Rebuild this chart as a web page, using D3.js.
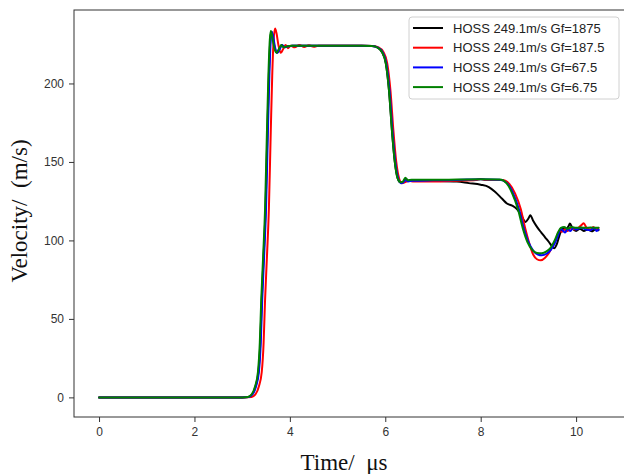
<!DOCTYPE html>
<html>
<head>
<meta charset="utf-8">
<script src="https://cdn.jsdelivr.net/npm/d3@7"></script>
<style>
  html, body { margin: 0; padding: 0; background: #fff; }
  svg { display: block; }
</style>
</head>
<body>
<svg id="chart" width="624" height="474"></svg>
<script>
// Velocity histories (time in µs, velocity in m/s) for four fracture energies
const seriesNames = [
  "HOSS 249.1m/s Gf=1875",
  "HOSS 249.1m/s Gf=187.5",
  "HOSS 249.1m/s Gf=67.5",
  "HOSS 249.1m/s Gf=6.75"
];
const seriesColors = ["#000000", "#ff0000", "#0000ff", "#008000"];

const gf1875 = [
  [0,0],[3.0,0],[3.13,0.3],[3.21,2],[3.28,7],[3.34,16],[3.38,35],[3.41,62],[3.45,90],[3.49,120],[3.53,170],[3.56,205],[3.59,228],[3.61,233],[3.64,230],[3.68,223],[3.73,219.5],[3.78,222],[3.83,224.5],[3.88,223],[3.94,223.5],[4.05,224],[4.5,224],[5.0,224],[5.5,224],[5.72,223.8],[5.83,223],[5.93,220],[6.01,213],[6.08,195],[6.14,170],[6.2,150],[6.26,139.5],[6.32,137],[6.38,137.3],[6.43,139.5],[6.48,138],[6.56,138.3],[7.0,138],[7.5,137.5],[7.75,136.5],[8.0,135.5],[8.17,134],[8.3,131],[8.45,126.5],[8.55,123.5],[8.66,122.2],[8.76,120],[8.85,116],[8.94,111.8],[9.0,114],[9.04,116],[9.1,112.5],[9.18,108.6],[9.27,105],[9.35,102],[9.43,99],[9.49,96.5],[9.54,95],[9.6,98],[9.66,104],[9.71,107.5],[9.78,107],[9.84,109],[9.87,110.8],[9.92,108],[10.0,106],[10.08,107.5],[10.16,106],[10.25,107],[10.33,105.8],[10.4,107],[10.47,106.5]
];
const gf187_5 = [
  [0,0],[3.0,0],[3.2,0.3],[3.28,2],[3.35,7],[3.41,16],[3.45,35],[3.48,62],[3.52,90],[3.56,120],[3.6,170],[3.63,205],[3.66,228],[3.69,235],[3.72,232],[3.76,224.5],[3.81,219.5],[3.86,222],[3.91,224.5],[3.96,222.5],[4.02,224],[4.1,223],[4.2,224.5],[4.3,223.2],[4.4,224.3],[4.5,223.4],[4.6,224],[5.0,224],[5.5,224],[5.74,223.8],[5.86,223],[5.96,220],[6.04,213],[6.11,195],[6.17,170],[6.23,150],[6.29,139.5],[6.35,136.5],[6.42,137.2],[6.5,138],[6.6,137.5],[7.0,137.5],[7.5,138],[7.9,138.5],[8.0,139.2],[8.1,138.5],[8.45,138.5],[8.6,136],[8.72,130],[8.84,120],[8.93,108],[9.02,98],[9.1,91],[9.18,88],[9.26,87.3],[9.35,89],[9.43,92],[9.5,96],[9.58,101],[9.65,106],[9.7,105.5],[9.76,107],[9.82,106],[9.9,108],[9.97,107],[10.05,108],[10.12,110],[10.16,111],[10.22,108],[10.3,107],[10.36,108.5],[10.42,107],[10.47,108]
];
const gf67_5 = [
  [0,0],[3.0,0],[3.14,0.3],[3.22,2],[3.29,7],[3.35,16],[3.39,35],[3.42,62],[3.46,90],[3.5,120],[3.54,170],[3.57,205],[3.6,228],[3.62,233],[3.65,230],[3.69,223],[3.74,219.5],[3.79,222],[3.84,224.5],[3.89,223],[3.95,223.5],[4.05,224],[4.5,224],[5.0,224],[5.5,224],[5.72,223.8],[5.84,223],[5.94,220],[6.02,213],[6.09,195],[6.15,170],[6.21,150],[6.27,139.5],[6.33,136.5],[6.38,137],[6.43,138.5],[6.48,137.5],[6.56,138],[7.0,138.3],[7.5,138.5],[8.0,139],[8.4,138.6],[8.55,136.5],[8.68,130],[8.8,120],[8.9,108],[9.0,99],[9.1,93.5],[9.2,91],[9.28,90.5],[9.38,91.5],[9.47,94],[9.55,98],[9.62,103],[9.68,107.5],[9.73,106],[9.77,105],[9.82,107.5],[9.88,106],[9.94,108],[10.0,107],[10.1,108],[10.2,107],[10.3,106.5],[10.38,108],[10.43,106],[10.47,107]
];
const gf6_75 = [
  [0,0],[3.0,0],[3.12,0.3],[3.2,2],[3.27,7],[3.33,16],[3.37,35],[3.4,62],[3.44,90],[3.48,120],[3.52,170],[3.55,205],[3.58,228],[3.6,233.5],[3.63,230],[3.67,223],[3.72,219.5],[3.77,222],[3.82,224.5],[3.87,223],[3.93,223.5],[4.05,224],[4.5,224],[5.0,224],[5.5,224],[5.72,223.8],[5.83,223],[5.93,220],[6.01,213],[6.08,195],[6.14,170],[6.2,150],[6.26,139.5],[6.32,137],[6.37,137.5],[6.42,140],[6.47,138.3],[6.55,138.6],[7.0,138.6],[7.5,138.8],[8.0,139],[8.4,138.8],[8.54,136.5],[8.66,130],[8.78,120],[8.88,108],[8.98,99],[9.08,94],[9.18,92],[9.28,91.8],[9.38,93],[9.47,95.5],[9.55,100],[9.62,105],[9.68,108],[9.75,108.5],[9.82,107.5],[9.9,108.5],[10.0,108],[10.1,108.2],[10.2,108],[10.3,108.3],[10.4,108],[10.47,108]
];
const seriesData = [gf1875, gf187_5, gf67_5, gf6_75];

const xTicks = [0, 2, 4, 6, 8, 10];
const yTicks = [0, 50, 100, 150, 200];
const xLabel = "Time/\u00a0\u00a0\u03bcs";
const yLabel = "Velocity/\u00a0\u00a0(m/s)";

const svg = d3.select("#chart");
const plotLeft = 74, plotRight = 625, plotTop = 10, plotBottom = 417;

const x = d3.scaleLinear().domain([-0.525, 11.025]).range([plotLeft, plotRight]);
const y = d3.scaleLinear().domain([-12.5, 246.8]).range([plotBottom, plotTop]);

svg.append("defs").append("clipPath").attr("id", "plotClip")
  .append("rect").attr("x", plotLeft).attr("y", plotTop)
  .attr("width", plotRight - plotLeft).attr("height", plotBottom - plotTop);

// Curves
const line = d3.line()
  .x(d => x(d[0]))
  .y(d => y(d[1]))
  .curve(d3.curveMonotoneX);

const plot = svg.append("g").attr("clip-path", "url(#plotClip)");
seriesData.forEach((pts, i) => {
  plot.append("path")
    .datum(pts)
    .attr("fill", "none")
    .attr("stroke", seriesColors[i])
    .attr("stroke-width", 2)
    .attr("stroke-linejoin", "round")
    .attr("stroke-linecap", "round")
    .attr("d", line);
});

// Axes
const tickFont = "Liberation Sans, Arial, sans-serif";
const xAxis = svg.append("g")
  .attr("transform", `translate(0,${plotBottom})`)
  .call(d3.axisBottom(x).tickValues(xTicks).tickFormat(d3.format("d")).tickSize(5).tickPadding(5));
const yAxis = svg.append("g")
  .attr("transform", `translate(${plotLeft},0)`)
  .call(d3.axisLeft(y).tickValues(yTicks).tickFormat(d3.format("d")).tickSize(5).tickPadding(5));

[xAxis, yAxis].forEach(g => {
  g.select(".domain").remove();
  g.selectAll(".tick line").attr("stroke", "#333").attr("stroke-width", 1);
  g.selectAll(".tick text")
    .attr("fill", "#333")
    .style("font-family", tickFont)
    .style("font-size", "12px");
});

// Frame
svg.append("rect")
  .attr("x", plotLeft).attr("y", plotTop)
  .attr("width", plotRight - plotLeft).attr("height", plotBottom - plotTop)
  .attr("fill", "none").attr("stroke", "#333").attr("stroke-width", 1);

// Axis titles
svg.append("text")
  .attr("x", 344).attr("y", 470)
  .attr("text-anchor", "middle")
  .style("font-family", "Liberation Serif, Times New Roman, serif")
  .style("font-size", "23px")
  .attr("fill", "#111")
  .text(xLabel);

svg.append("text")
  .attr("transform", "translate(27,211) rotate(-90)")
  .attr("text-anchor", "middle")
  .style("font-family", "Liberation Serif, Times New Roman, serif")
  .style("font-size", "23px")
  .attr("fill", "#111")
  .text(yLabel);

// Legend
const legend = svg.append("g");
legend.append("rect")
  .attr("x", 409).attr("y", 17)
  .attr("width", 210).attr("height", 82)
  .attr("rx", 3).attr("ry", 3)
  .attr("fill", "#fff").attr("fill-opacity", 0.85)
  .attr("stroke", "#d0d0d0").attr("stroke-width", 1);

seriesNames.forEach((name, i) => {
  const ry = 28 + i * 19.7;
  legend.append("line")
    .attr("x1", 413).attr("x2", 443)
    .attr("y1", ry).attr("y2", ry)
    .attr("stroke", seriesColors[i]).attr("stroke-width", 2);
  legend.append("text")
    .attr("x", 453).attr("y", ry)
    .attr("dy", "0.36em")
    .style("font-family", tickFont)
    .style("font-size", "13px")
    .attr("fill", "#222")
    .text(name);
});
</script>
</body>
</html>
